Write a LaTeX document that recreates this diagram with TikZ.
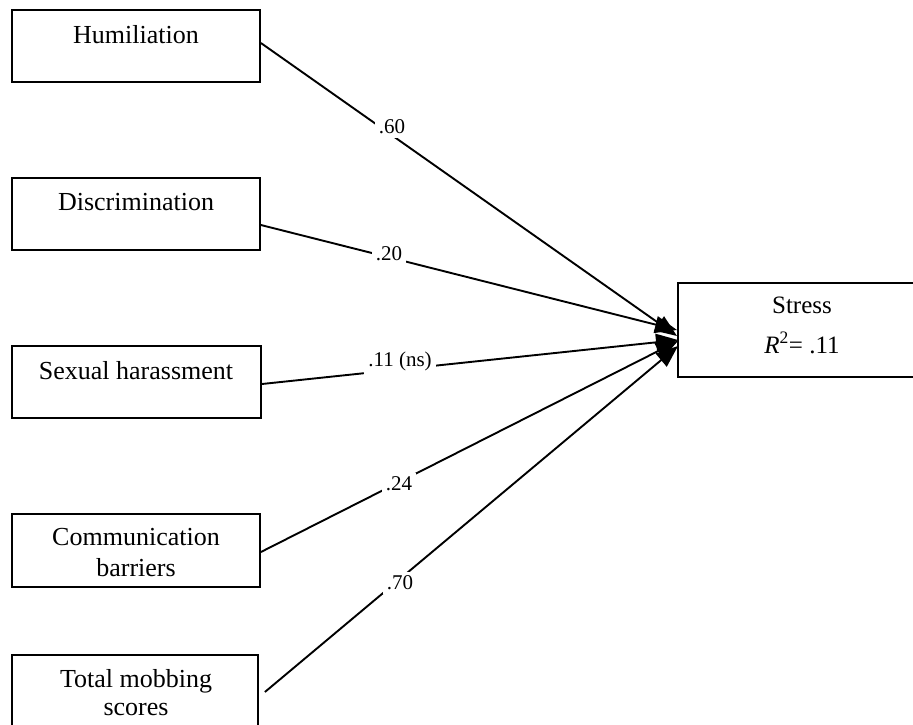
\documentclass[tikz,border=0pt]{standalone}
\usepackage{fontspec}
\setmainfont{Liberation Serif}
\usetikzlibrary{arrows.meta}
\begin{document}
\begin{tikzpicture}[x=1pt,y=-1pt,
  box/.style={draw, line width=1.8pt, inner sep=0pt},
  boxtext/.style={anchor=base, align=center, inner sep=0pt, font=\fontsize{26}{30.5}\selectfont},
  lbl/.style={fill=white, inner sep=4pt, font=\fontsize{21}{24}\selectfont},
  path/.style={line width=1.9pt, -{Triangle[length=22pt,width=17pt]}}]
\useasboundingbox (0,0) rectangle (913,724);
\clip (0,0) rectangle (913,724);
% predictor boxes
\node[box, minimum width=248pt, minimum height=72pt] (h) at (136,46) {};
\node[box, minimum width=248pt, minimum height=72pt] (d) at (136,214) {};
\node[box, minimum width=249pt, minimum height=72pt] (s) at (136.5,382) {};
\node[box, minimum width=248pt, minimum height=73pt] (c) at (136,550.5) {};
\node[box, minimum width=246pt, minimum height=100pt] (t) at (135,705) {};
\node[box, minimum width=248pt, minimum height=94pt] (y) at (802,330) {};
% texts
\node[boxtext] (ht) at (136,43) {Humiliation};
\node[boxtext] (dt) at (136,210) {Discrimination};
\node[boxtext] (st) at (136,379) {Sexual harassment};
\node[boxtext] (ct1) at (136,545) {Communication};
\node[boxtext] (ct2) at (136,576) {barriers};
\node[boxtext] (tt1) at (136,687) {Total mobbing};
\node[boxtext] (tt2) at (136,715) {scores};
\node[boxtext, font=\fontsize{25}{28}\selectfont] (yt1) at (802,313) {Stress};
\node[boxtext, font=\fontsize{25}{28}\selectfont] (yt2) at (802,353) {\textit{R}\textsuperscript{2}= .11};
% targets
\coordinate (th) at (677,336);
\coordinate (td) at (677,330);
\coordinate (ts) at (678,340);
\coordinate (tc) at (678,341);
\coordinate (tm) at (678,346);
% paths
\draw[path] ([yshift=3pt]h.east) -- (th);
\draw[path] ([yshift=-11pt]d.east) -- (td);
\draw[path] ([yshift=-2pt]s.east) -- (ts);
\draw[path] ([yshift=-1.5pt]c.east) -- (tc);
\draw[path] ([xshift=6pt,yshift=13pt]t.east) -- (tm);
% labels
\node[lbl] (l1) at (392,127) {.60};
\node[lbl] (l2) at (389,254) {.20};
\node[lbl] (l3) at (400,361) {.11 (ns)};
\node[lbl] (l4) at (399,484) {.24};
\node[lbl] (l5) at (400,583) {.70};
\end{tikzpicture}
\end{document}
